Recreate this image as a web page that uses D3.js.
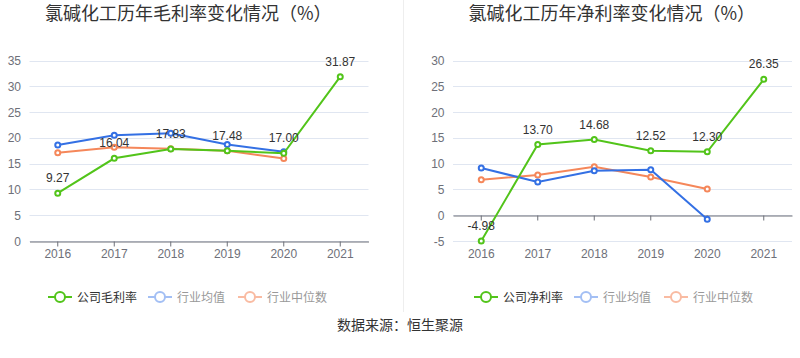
<!DOCTYPE html>
<html><head><meta charset="utf-8">
<script src="https://cdn.jsdelivr.net/npm/d3@7"></script>
<style>body{margin:0;background:#fff;}svg{display:block;}</style>
</head><body><svg id="c" width="800" height="358"></svg>
<script>
const years = ["2016","2017","2018","2019","2020","2021"];
const grossCompany = [9.27, 16.04, 17.83, 17.48, 17.00, 31.87];
const grossMean = [18.6, 20.5, 20.9, 18.7, 17.3];
const grossMedian = [17.1, 18.2, 17.9, 17.5, 16.0];
const netCompany = [-4.98, 13.70, 14.68, 12.52, 12.30, 26.35];
const netMean = [9.15, 6.45, 8.6, 8.8, -0.77];
const netMedian = [6.9, 7.8, 9.4, 7.4, 5.1];
const grossTicks = [0,5,10,15,20,25,30,35];
const netTicks = [-5,0,5,10,15,20,25,30];
const titles = ["氯碱化工历年毛利率变化情况（%）","氯碱化工历年净利率变化情况（%）"];
const legendNames = [["公司毛利率","行业均值","行业中位数"],["公司净利率","行业均值","行业中位数"]];
const source = "数据来源：恒生聚源";

const GREEN="#52c41a", BLUE="#3470e4", ORANGE="#f5875a";
const svg = d3.select("#c");
const FONT = "'Liberation Sans', Arial, 'Noto Sans CJK SC', sans-serif";
const CJK = "'Noto Sans CJK SC', sans-serif";

svg.append("line").attr("x1",403.5).attr("x2",403.5).attr("y1",0).attr("y2",312)
  .attr("stroke","#eeeeee").attr("stroke-width",1);

function chart(ox, company, mean, median, ticks, title, names, legendX){
  const x = d3.scaleBand().domain(years).range([ox+29.5, ox+368.5]);
  const y = d3.scaleLinear().domain([ticks[0], ticks[ticks.length-1]]).range([241, 60.5]);
  const g = svg.append("g");
  g.append("text").attr("x", ox+45).attr("y", 20).text(title)
    .attr("font-family", CJK).attr("font-size", 18).attr("fill", "#333");
  g.selectAll(".grid").data(ticks).join("line")
    .attr("x1", ox+29.5).attr("x2", ox+368.5)
    .attr("y1", d=>Math.round(y(d))+0.5).attr("y2", d=>Math.round(y(d))+0.5)
    .attr("stroke", "#e0e6f1").attr("stroke-width", 1);
  g.selectAll(".yl").data(ticks).join("text")
    .attr("x", ox+21).attr("y", d=>y(d)+4.5).attr("text-anchor","end")
    .attr("font-family", FONT).attr("font-size", 12).attr("fill", "#6e7079").text(d=>d);
  const ax = g.append("g").attr("transform", `translate(0,${Math.round(y(0))+0.5})`)
    .call(d3.axisBottom(x).tickSize(5).tickSizeOuter(0).tickPadding(3));
  ax.select(".domain").attr("stroke","#6e7079");
  ax.selectAll(".tick line").attr("stroke","#6e7079");
  ax.selectAll("text").remove();
  g.selectAll(".xl").data(years).join("text")
    .attr("x", d=>x(d)+x.bandwidth()/2).attr("y", 258)
    .attr("text-anchor","middle").attr("font-family", FONT).attr("font-size", 12)
    .attr("fill","#6e7079").text(d=>d);
  const line = d3.line().x((d,i)=>x(years[i])+x.bandwidth()/2).y(d=>y(d));
  const series = [[median, ORANGE],[mean, BLUE],[company, GREEN]];
  series.forEach(([data,col])=>{
    g.append("path").attr("d", line(data)).attr("fill","none")
      .attr("stroke", col).attr("stroke-width", 2);
    g.selectAll(null).data(data).join("circle")
      .attr("cx",(d,i)=>x(years[i])+x.bandwidth()/2).attr("cy", d=>y(d))
      .attr("r", 2.5).attr("fill","#fff").attr("stroke", col).attr("stroke-width", 2);
  });
  g.selectAll(".lab").data(company).join("text")
    .attr("x",(d,i)=>x(years[i])+x.bandwidth()/2).attr("y", d=>y(d)-11)
    .attr("text-anchor","middle").attr("font-family", FONT).attr("font-size", 12)
    .attr("fill","#333").text(d=>d.toFixed(2));
  const cols = [GREEN, "#a3bff4", "#f9bba2"];
  const tcols = ["#333", "#999", "#999"];
  const offs = [0, 100, 190];
  names.forEach((n,i)=>{
    const lx = legendX + offs[i];
    const lg = g.append("g");
    lg.append("line").attr("x1",lx).attr("x2",lx+24).attr("y1",297).attr("y2",297)
      .attr("stroke",cols[i]).attr("stroke-width",2);
    lg.append("circle").attr("cx",lx+12).attr("cy",297).attr("r",5)
      .attr("fill","#fff").attr("stroke",cols[i]).attr("stroke-width",2);
    lg.append("text").attr("x",lx+29).attr("y",302).text(n)
      .attr("font-family",CJK).attr("font-size",12).attr("fill",tcols[i]);
  });
}
chart(0, grossCompany, grossMean, grossMedian, grossTicks, titles[0], legendNames[0], 48);
chart(423.5, netCompany, netMean, netMedian, netTicks, titles[1], legendNames[1], 474);
svg.append("text").attr("x",400).attr("y",330).attr("text-anchor","middle")
  .attr("font-family",CJK).attr("font-size",14).attr("fill","#333").text(source);
</script></body></html>
